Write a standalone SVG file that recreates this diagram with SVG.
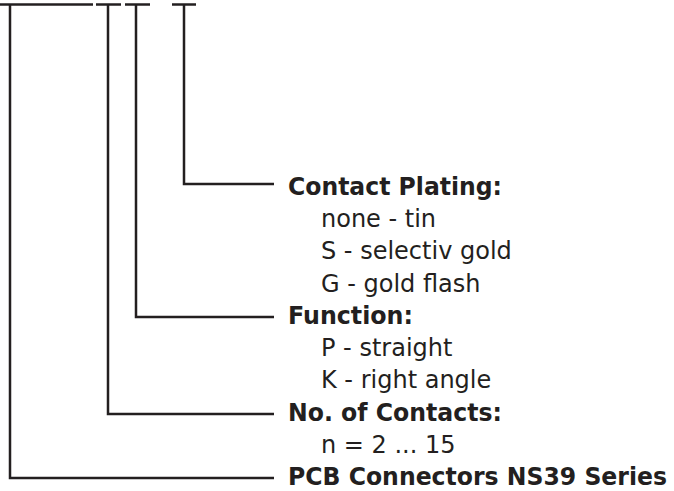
<svg xmlns="http://www.w3.org/2000/svg" width="674" height="491" viewBox="0 0 674 491">
  <style>
    .ln { fill: none; stroke: #231f20; stroke-width: 2.5; stroke-linecap: butt; stroke-linejoin: miter; }
    .h { font-family: "DejaVu Sans", Verdana, sans-serif; font-weight: bold; font-size: 25px; fill: #231f20; }
    .t { font-family: "DejaVu Sans", Verdana, sans-serif; font-size: 24px; fill: #231f20; }
  </style>
  <rect width="674" height="491" fill="#ffffff"/>
  <g id="code-positions">
    <line id="pos-series" class="ln" x1="0" y1="4.5" x2="93" y2="4.5"/>
    <line id="pos-contacts" class="ln" x1="96" y1="4.5" x2="121" y2="4.5"/>
    <line id="pos-function" class="ln" x1="125" y1="4.5" x2="150" y2="4.5"/>
    <line id="pos-plating" class="ln" x1="172" y1="4.5" x2="196" y2="4.5"/>
  </g>
  <g id="connectors">
    <polyline class="ln" points="10,4.5 10,478 274,478"/>
    <polyline class="ln" points="108,4.5 108,414 274,414"/>
    <polyline class="ln" points="136,4.5 136,317 274,317"/>
    <polyline class="ln" points="184,4.5 184,184 274,184"/>
  </g>
  <g id="node-plating">
    <text class="h" x="288" y="195" textLength="214" lengthAdjust="spacingAndGlyphs">Contact Plating:</text>
    <text class="t" x="321" y="227.2">none - tin</text>
    <text class="t" x="321" y="259.4">S - selectiv gold</text>
    <text class="t" x="321" y="291.7">G - gold flash</text>
  </g>
  <g id="node-function">
    <text class="h" x="288" y="323.9" textLength="125" lengthAdjust="spacingAndGlyphs">Function:</text>
    <text class="t" x="321" y="356.1">P - straight</text>
    <text class="t" x="321" y="388.3">K - right angle</text>
  </g>
  <g id="node-contacts">
    <text class="h" x="288" y="420.6" textLength="214" lengthAdjust="spacingAndGlyphs">No. of Contacts:</text>
    <text class="t" x="321" y="452.8">n = 2 ... 15</text>
  </g>
  <g id="node-series">
    <text class="h" x="288" y="485" textLength="379" lengthAdjust="spacingAndGlyphs">PCB Connectors NS39 Series</text>
  </g>
</svg>
